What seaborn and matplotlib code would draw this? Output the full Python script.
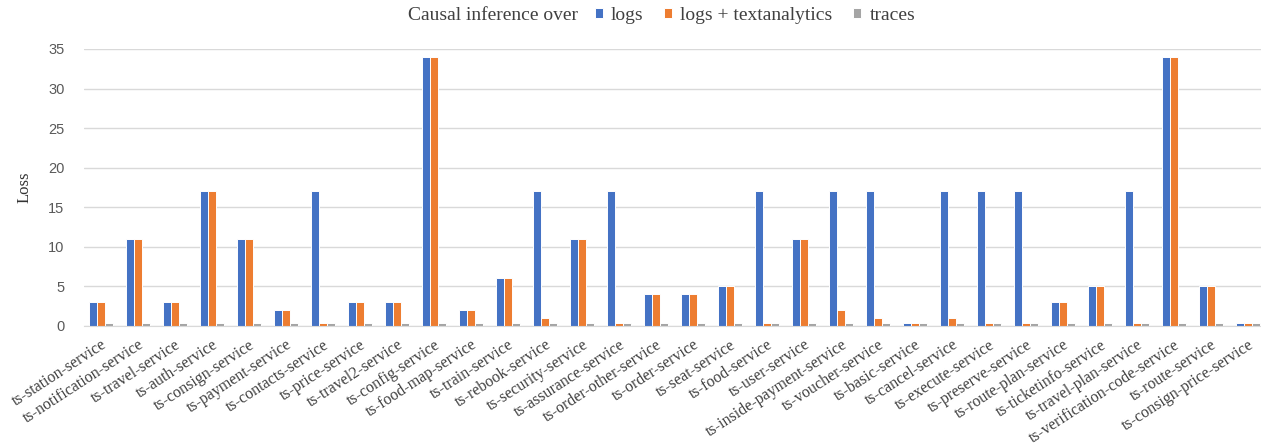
import matplotlib
matplotlib.use("Agg")
import matplotlib.pyplot as plt
import seaborn as sns
import pandas as pd

services = [
    "ts-station-service", "ts-notification-service", "ts-travel-service", "ts-auth-service",
    "ts-consign-service", "ts-payment-service", "ts-contacts-service", "ts-price-service",
    "ts-travel2-service", "ts-config-service", "ts-food-map-service", "ts-train-service",
    "ts-rebook-service", "ts-security-service", "ts-assurance-service", "ts-order-other-service",
    "ts-order-service", "ts-seat-service", "ts-food-service", "ts-user-service",
    "ts-inside-payment-service", "ts-voucher-service", "ts-basic-service", "ts-cancel-service",
    "ts-execute-service", "ts-preserve-service", "ts-route-plan-service", "ts-ticketinfo-service",
    "ts-travel-plan-service", "ts-verification-code-service", "ts-route-service",
    "ts-consign-price-service",
]
logs = [3, 11, 3, 17, 11, 2, 17, 3, 3, 34, 2, 6, 17, 11, 17, 4,
        4, 5, 17, 11, 17, 17, 0.3, 17, 17, 17, 3, 5, 17, 34, 5, 0.3]
logs_text = [3, 11, 3, 17, 11, 2, 0.3, 3, 3, 34, 2, 6, 1, 11, 0.3, 4,
             4, 5, 0.3, 11, 2, 1, 0.3, 1, 0.3, 0.3, 3, 5, 0.3, 34, 5, 0.3]
traces = [0.3] * 32
series_names = ["logs", "logs + textanalytics", "traces"]
colors = ["#4472C4", "#ED7D31", "#A5A5A5"]

rows = []
for name, vals in zip(series_names, [logs, logs_text, traces]):
    for s, v in zip(services, vals):
        rows.append({"service": s, "series": name, "loss": v})
df = pd.DataFrame(rows)

sns.set_style("white")
plt.rcParams["font.family"] = ["Liberation Serif", "DejaVu Sans"]

fig = plt.figure(figsize=(12.61, 4.48), dpi=100)
ax = fig.add_axes([84 / 1261, 1 - 325.7 / 448, 1 - 84 / 1261, (325.7 - 49) / 448])

sns.barplot(data=df, x="service", y="loss", hue="series", hue_order=series_names,
            order=services, palette=colors, width=0.66, edgecolor="white",
            linewidth=0.7, ax=ax, saturation=1, legend=True)

ax.set_ylim(0, 35)
ax.set_xlim(-0.46, 31.35)
ax.set_yticks(range(0, 36, 5))
ax.yaxis.grid(True, color="#D9D9D9", linewidth=1)
ax.set_axisbelow(True)
for side in ["top", "right", "left"]:
    ax.spines[side].set_visible(False)
ax.spines["bottom"].set_color("#D9D9D9")
ax.tick_params(axis="both", length=0)
for lab in ax.get_yticklabels():
    lab.set_fontfamily("Liberation Sans")
    lab.set_fontsize(10.5)
    lab.set_color("#595959")
ax.tick_params(axis="y", pad=14)
ax.set_xticks(range(len(services)))
ax.set_xticklabels(services, rotation=33, ha="right", rotation_mode="anchor",
                   fontsize=11.5, color="#404040")
ax.tick_params(axis="x", pad=8)
ax.set_xlabel("")
ax.set_ylabel("Loss", fontsize=12, color="#333333", labelpad=11)

handles, labels = ax.get_legend_handles_labels()
ax.get_legend().remove()
fig.text(408 / 1261, 1 - 15 / 448, "Causal inference over", fontsize=14,
         va="center", ha="left", color="#404040")
fig.legend(handles, labels, loc="center left", bbox_to_anchor=(585 / 1261, 1 - 15 / 448),
           ncol=3, frameon=False, fontsize=14, handlelength=0.42, handleheight=0.42,
           handletextpad=0.42, columnspacing=1.05, labelcolor="#404040", borderpad=0)

fig.savefig("out.png", dpi=100)
